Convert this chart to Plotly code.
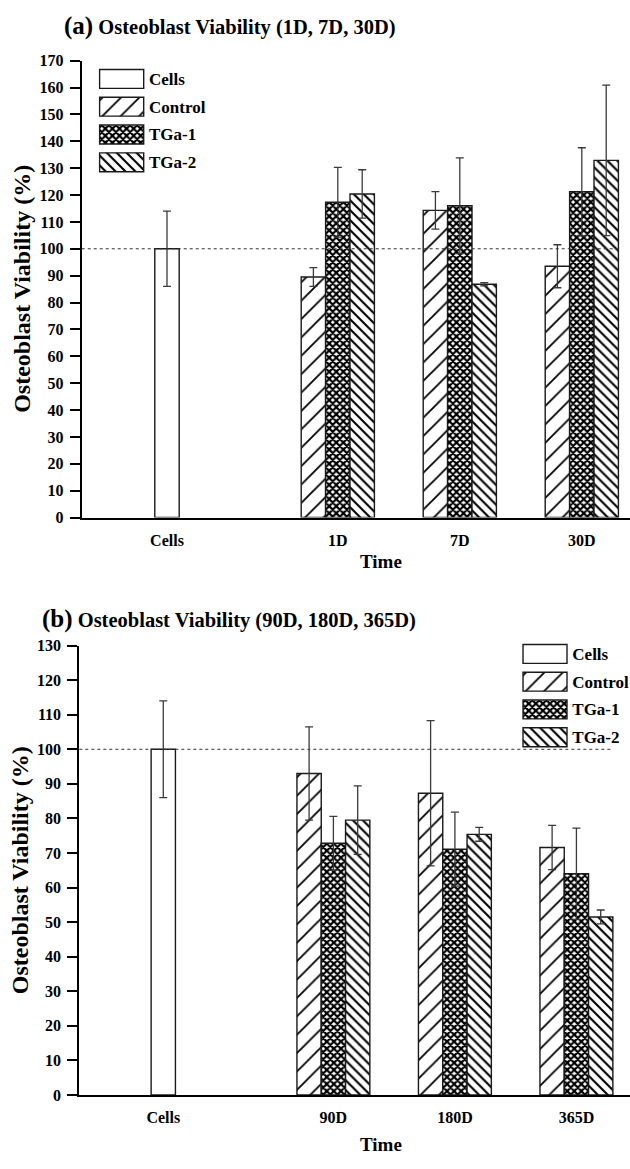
import plotly.graph_objects as go

# ---- data -------------------------------------------------------------
series_names = ["Cells", "Control", "TGa-1", "TGa-2"]

groups_a = ["1D", "7D", "30D"]
groups_b = ["90D", "180D", "365D"]

cells_mean = 100.0
cells_sd = 14.0

control_a = [89.5, 114.3, 93.5]
control_a_sd = [3.5, 7.0, 8.0]
tga1_a = [117.3, 116.0, 121.2]
tga1_a_sd = [13.0, 17.8, 16.4]
tga2_a = [120.4, 86.8, 132.9]
tga2_a_sd = [9.0, 0.6, 28.0]

control_b = [93.0, 87.3, 71.6]
control_b_sd = [13.5, 21.0, 6.4]
tga1_b = [72.8, 71.1, 64.0]
tga1_b_sd = [7.8, 10.7, 13.2]
tga2_b = [79.5, 75.4, 51.5]
tga2_b_sd = [9.9, 2.0, 2.0]

y_ticks_a = list(range(0, 171, 10))
y_ticks_b = list(range(0, 131, 10))
reference_level = 100

# ---- styling ----------------------------------------------------------
FONT = "Liberation Serif"
W, H = 630, 1169
OUTLINE = dict(color="#1a1a1a", width=1.4)


def fill(name):
    if name == "Cells":
        return dict(color="white", line=OUTLINE)
    shapes = {
        "Control": dict(shape="/", size=13, solidity=0.14),
        "TGa-1": dict(shape="x", size=5, solidity=0.68),
        "TGa-2": dict(shape="\\", size=7, solidity=0.3),
    }
    pat = dict(fgcolor="black", bgcolor="white", fillmode="replace", **shapes[name])
    return dict(color="white", line=OUTLINE, pattern=pat)


ERR = dict(type="data", visible=True, color="#3a3a3a", thickness=1.3, width=4)

# horizontal layout of the groups along each x axis
CELLS_POS = 0.0
GROUP_POS = [1.4, 2.4, 3.4]
BAR_W = 0.2
OFFSETS = {"Cells": -0.1, "Control": -0.3, "TGa-1": -0.1, "TGa-2": 0.1}

fig = go.Figure()


def add_panel(xa, ya, groups, control, control_sd, tga1, tga1_sd, tga2, tga2_sd):
    fig.add_trace(go.Bar(
        x=[CELLS_POS], y=[cells_mean], width=BAR_W, offset=OFFSETS["Cells"],
        error_y=dict(array=[cells_sd], **ERR), marker=fill("Cells"),
        xaxis=xa, yaxis=ya, showlegend=False, name="Cells"))
    for name, vals, sds in [("Control", control, control_sd),
                            ("TGa-1", tga1, tga1_sd),
                            ("TGa-2", tga2, tga2_sd)]:
        fig.add_trace(go.Bar(
            x=GROUP_POS, y=vals, width=BAR_W, offset=OFFSETS[name],
            error_y=dict(array=sds, **ERR), marker=fill(name),
            xaxis=xa, yaxis=ya, showlegend=False, name=name,
            hovertext=groups))


def add_key(xa, ya):
    # legend swatches drawn as horizontal bars on a small category axis
    for name in series_names:
        fig.add_trace(go.Bar(
            x=[1], y=[name], orientation="h", base=0, width=0.68, offset=-0.34,
            marker=fill(name), xaxis=xa, yaxis=ya, showlegend=False,
            hoverinfo="skip"))


add_panel("x", "y", groups_a, control_a, control_a_sd, tga1_a, tga1_a_sd, tga2_a, tga2_a_sd)
add_panel("x2", "y2", groups_b, control_b, control_b_sd, tga1_b, tga1_b_sd, tga2_b, tga2_b_sd)
add_key("x3", "y3")
add_key("x4", "y4")

tick_font = dict(family=FONT, size=16, color="black", weight="bold")


def xaxis_cfg(domain, rng, groups, anchor):
    return dict(domain=domain, range=rng, anchor=anchor, type="linear",
                tickvals=[CELLS_POS] + GROUP_POS, ticktext=["Cells"] + groups,
                ticks="", ticklabelstandoff=7, tickfont=tick_font,
                showline=True, linecolor="black", linewidth=2.2,
                showgrid=False, zeroline=False, fixedrange=True)


def yaxis_cfg(domain, top, ticks, anchor):
    return dict(domain=domain, range=[0, top], anchor=anchor,
                tickvals=ticks, ticks="outside", ticklen=10, tickwidth=2,
                tickcolor="black", ticklabelstandoff=3, tickfont=tick_font,
                showline=True, linecolor="black", linewidth=2,
                showgrid=False, zeroline=False, fixedrange=True)


def key_axes(xdom, ydom, anchor_x, anchor_y):
    xa = dict(domain=xdom, range=[-0.03, 1.03], visible=False, anchor=anchor_y,
              fixedrange=True)
    ya = dict(domain=ydom, type="category", categoryorder="array",
              categoryarray=series_names, range=[3.5, -0.5], side="right",
              anchor=anchor_x, showline=False, ticks="", showgrid=False,
              ticklabelstandoff=3,
              tickfont=dict(family=FONT, size=17, color="black", weight="bold"),
              fixedrange=True)
    return xa, ya


x3, y3 = key_axes([0.156, 0.2302], [0.8540, 0.9505], "x3", "y3")
x4, y4 = key_axes([0.8281, 0.9021], [0.3549, 0.4514], "x4", "y4")

fig.update_layout(
    width=W, height=H,
    margin=dict(l=0, r=0, t=0, b=0),
    paper_bgcolor="white", plot_bgcolor="rgba(0,0,0,0)",
    barmode="overlay",
    font=dict(family=FONT, color="black"),
    xaxis=xaxis_cfg([0.1297, 1.0], [-0.699, 3.795], groups_a, "y"),
    yaxis=yaxis_cfg([0.5577, 0.9543], 170, y_ticks_a, "x"),
    xaxis2=xaxis_cfg([0.1259, 1.0], [-0.691, 3.841], groups_b, "y2"),
    yaxis2=yaxis_cfg([0.0565, 0.4465], 130, y_ticks_b, "x2"),
    xaxis3=x3, yaxis3=y3, xaxis4=x4, yaxis4=y4,
)

# dashed reference line at 100 %
for xref, yref, x1 in [("x domain", "y", 0.982), ("x2 domain", "y2", 0.967)]:
    fig.add_shape(type="line", xref=xref, yref=yref, x0=0, x1=x1,
                  y0=reference_level, y1=reference_level, layer="above",
                  line=dict(color="#333333", width=1, dash="3px,3px"))

title_style = dict(family=FONT, size=20.5, color="black")
axis_title = dict(family=FONT, size=24, color="black")

annotations = [
    dict(text="<b><span style='font-size:25px'>(a)</span> Osteoblast Viability (1D, 7D, 30D)</b>",
         x=62 / W, y=1 - 18 / H, xanchor="left", yanchor="middle", font=title_style),
    dict(text="<b><span style='font-size:25px'>(b)</span> Osteoblast Viability (90D, 180D, 365D)</b>",
         x=40 / W, y=1 - 620 / H, xanchor="left", yanchor="middle", font=title_style),
    dict(text="<b>Osteoblast Viability (%)</b>", textangle=-90,
         x=22 / W, y=1 - 285 / H, xanchor="center", yanchor="middle", font=axis_title),
    dict(text="<b>Osteoblast Viability (%)</b>", textangle=-90,
         x=20 / W, y=1 - 875 / H, xanchor="center", yanchor="middle", font=axis_title),
    dict(text="<b>Time</b>", x=381 / W, y=1 - 562 / H, xanchor="center",
         yanchor="middle", font=dict(family=FONT, size=19, color="black")),
    dict(text="<b>Time</b>", x=381 / W, y=1 - 1153 / H, xanchor="center",
         yanchor="middle", font=dict(family=FONT, size=19, color="black")),
]
for a in annotations:
    fig.add_annotation(xref="paper", yref="paper", showarrow=False, **a)

fig.write_html("out.html", include_plotlyjs=True, config={"displayModeBar": False})
